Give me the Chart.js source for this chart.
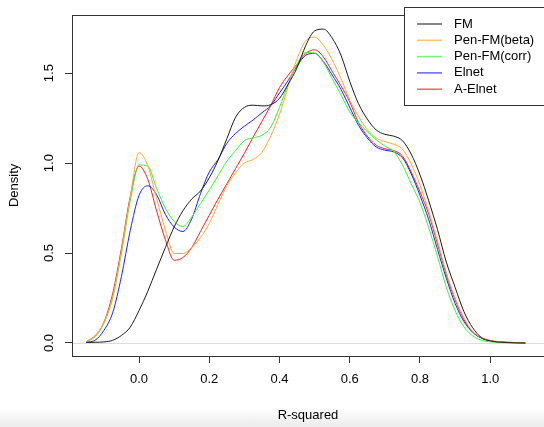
<!DOCTYPE html>
<html>
<head>
<meta charset="utf-8">
<script src="https://cdn.jsdelivr.net/npm/chart.js@4.4.1/dist/chart.umd.min.js"></script>
<style>
  html, body { margin: 0; padding: 0; }
  body { width: 544px; height: 427px; overflow: hidden;
         background: linear-gradient(to bottom, #fff 0, #fff 408px, #ebebeb 427px); }
  #densityChart { display: block; }
</style>
</head>
<body>
<canvas id="densityChart" width="544" height="427"></canvas>
<script>
// ================= DATA =================
const rSquared = [-0.15, -0.125, -0.1, -0.075, -0.05, -0.025, 0, 0.025, 0.05, 0.075,
  0.1, 0.125, 0.15, 0.175, 0.2, 0.225, 0.25, 0.275, 0.3, 0.325,
  0.35, 0.375, 0.4, 0.425, 0.45, 0.475, 0.5, 0.525, 0.55, 0.575,
  0.6, 0.625, 0.65, 0.675, 0.7, 0.725, 0.75, 0.775, 0.8, 0.825,
  0.85, 0.875, 0.9, 0.925, 0.95, 0.975, 1.0, 1.025, 1.05, 1.075, 1.1];

const fm = [0.003, 0.004, 0.006, 0.015, 0.042, 0.088, 0.18, 0.287, 0.41, 0.53,
  0.645, 0.735, 0.80, 0.845, 0.918, 1.015, 1.135, 1.255, 1.31, 1.322,
  1.318, 1.325, 1.36, 1.44, 1.53, 1.655, 1.735, 1.745, 1.695, 1.60,
  1.455, 1.33, 1.245, 1.185, 1.16, 1.15, 1.125, 1.05, 0.935, 0.79,
  0.63, 0.45, 0.31, 0.175, 0.085, 0.03, 0.012, 0.005, 0.002, 0.001, 0.0];

const penFmBeta = [0.008, 0.04, 0.112, 0.256, 0.51, 0.81, 1.058, 0.985, 0.805, 0.63,
  0.498, 0.497, 0.53, 0.585, 0.665, 0.77, 0.875, 0.945, 1.0, 1.02,
  1.06, 1.15, 1.27, 1.43, 1.58, 1.68, 1.70, 1.655, 1.575, 1.47,
  1.35, 1.26, 1.185, 1.14, 1.12, 1.105, 1.078, 0.995, 0.88, 0.73,
  0.565, 0.39, 0.25, 0.14, 0.065, 0.03, 0.014, 0.007, 0.004, 0.002, 0.001];

const penFmCorr = [0.008, 0.035, 0.11, 0.25, 0.50, 0.79, 0.99, 0.983, 0.86, 0.75,
  0.675, 0.648, 0.70, 0.775, 0.85, 0.93, 1.01, 1.07, 1.125, 1.14,
  1.155, 1.20, 1.31, 1.44, 1.55, 1.615, 1.612, 1.56, 1.47, 1.38,
  1.285, 1.225, 1.175, 1.13, 1.095, 1.065, 0.99, 0.885, 0.78, 0.64,
  0.48, 0.31, 0.18, 0.09, 0.04, 0.015, 0.006, 0.003, 0.002, 0.001, 0.0];

const elnet = [0.004, 0.015, 0.07, 0.168, 0.37, 0.625, 0.82, 0.874, 0.825, 0.715,
  0.645, 0.62, 0.69, 0.83, 0.95, 1.02, 1.11, 1.165, 1.205, 1.24,
  1.28, 1.32, 1.39, 1.46, 1.54, 1.60, 1.61, 1.565, 1.49, 1.41,
  1.31, 1.21, 1.14, 1.09, 1.072, 1.062, 1.03, 0.94, 0.82, 0.685,
  0.52, 0.36, 0.22, 0.12, 0.06, 0.027, 0.012, 0.006, 0.003, 0.001, 0.0];

const aElnet = [0.008, 0.04, 0.115, 0.275, 0.527, 0.815, 0.983, 0.91, 0.735, 0.575,
  0.46, 0.475, 0.53, 0.62, 0.71, 0.80, 0.885, 0.97, 1.055, 1.145,
  1.232, 1.32, 1.42, 1.49, 1.55, 1.61, 1.63, 1.59, 1.51, 1.43,
  1.34, 1.225, 1.15, 1.10, 1.08, 1.07, 1.04, 0.95, 0.84, 0.715,
  0.55, 0.38, 0.24, 0.13, 0.06, 0.028, 0.014, 0.007, 0.004, 0.002, 0.001];

const seriesLabels = ["FM", "Pen-FM(beta)", "Pen-FM(corr)", "Elnet", "A-Elnet"];
const seriesValues = [fm, penFmBeta, penFmCorr, elnet, aElnet];
const seriesColors = ["#1a1a1a", "#ffa733", "#3cf03c", "#1f1ff5", "#f52020"];

const xTicks = [0, 0.2, 0.4, 0.6, 0.8, 1.0];
const yTicks = [0, 0.5, 1.0, 1.5];

const FONT = "'Liberation Sans', Arial, Helvetica, sans-serif";

// ================= PLUGINS =================
// box round the plot region + gray zero line (R density style)
const boxPlugin = {
  id: "boxPlugin",
  beforeDatasetsDraw(chart) {
    const { ctx, chartArea: a, scales } = chart;
    const y0 = Math.round(scales.y.getPixelForValue(0)) + 0.5;
    ctx.save();
    ctx.strokeStyle = "#dcdcdc";
    ctx.lineWidth = 1;
    ctx.beginPath();
    ctx.moveTo(a.left, y0);
    ctx.lineTo(a.right, y0);
    ctx.stroke();
    ctx.restore();
  },
  afterDatasetsDraw(chart) {
    const { ctx, chartArea: a } = chart;
    ctx.save();
    ctx.strokeStyle = "#333";
    ctx.lineWidth = 1;
    ctx.strokeRect(Math.round(a.left) + 0.5, Math.round(a.top) + 0.5,
      Math.round(a.right - a.left), Math.round(a.bottom - a.top));
    ctx.restore();
  }
};

// legend box in the top right corner
const legendBox = {
  id: "legendBox",
  afterDraw(chart) {
    const { ctx } = chart;
    const left = 404.5, top = 7.5, bottom = 105.5;
    ctx.save();
    ctx.fillStyle = "#fff";
    ctx.fillRect(left, top, 200, bottom - top);
    ctx.strokeStyle = "#333";
    ctx.lineWidth = 1;
    ctx.strokeRect(left, top, 200, bottom - top);
    ctx.font = "13px " + FONT;
    ctx.textBaseline = "middle";
    chart.data.datasets.forEach((ds, i) => {
      const y = 24 + i * 16.3;
      ctx.strokeStyle = ds.borderColor;
      ctx.lineWidth = 1.5;
      ctx.globalAlpha = 0.7;
      ctx.beginPath();
      ctx.moveTo(417, y);
      ctx.lineTo(442, y);
      ctx.stroke();
      ctx.globalAlpha = 1;
      ctx.fillStyle = "#000";
      ctx.fillText(ds.label, 454, y);
    });
    ctx.restore();
  }
};

// ================= CHART =================
new Chart(document.getElementById("densityChart"), {
  type: "line",
  data: {
    datasets: seriesLabels.map((label, i) => ({
      label: label,
      data: rSquared.map((x, j) => ({ x: x, y: seriesValues[i][j] })),
      borderColor: seriesColors[i],
      borderWidth: 1,
      pointRadius: 0,
      fill: false,
      cubicInterpolationMode: "monotone"
    }))
  },
  options: {
    responsive: false,
    animation: false,
    layout: { padding: { top: 7, right: -2, bottom: 0, left: 0 } },
    plugins: {
      legend: { display: false },
      tooltip: { enabled: false }
    },
    scales: {
      x: {
        type: "linear",
        min: -0.1908,
        max: 1.1531,
        afterBuildTicks: (s) => { s.ticks = xTicks.map(v => ({ value: v })); },
        afterFit: (s) => { s.height = 71; },
        grid: { drawOnChartArea: false, drawTicks: true, tickLength: 7, color: "#333" },
        border: { display: false },
        ticks: {
          padding: 9,
          color: "#000",
          font: { family: FONT, size: 13 },
          maxRotation: 0,
          callback: (v) => v.toFixed(1)
        },
        title: {
          display: true,
          text: "R-squared",
          color: "#000",
          font: { family: FONT, size: 13 },
          padding: { top: 0, bottom: 4 }
        }
      },
      y: {
        type: "linear",
        min: -0.0723,
        max: 1.8245,
        afterBuildTicks: (s) => { s.ticks = yTicks.map(v => ({ value: v })); },
        afterFit: (s) => { s.width = 72; },
        grid: { drawOnChartArea: false, drawTicks: true, tickLength: 7, color: "#333" },
        border: { display: false },
        ticks: {
          padding: 7,
          color: "#000",
          font: { family: FONT, size: 13 },
          minRotation: 90,
          maxRotation: 90,
          crossAlign: "center",
          callback: (v) => v.toFixed(1)
        },
        title: {
          display: true,
          text: "Density",
          color: "#000",
          font: { family: FONT, size: 13 },
          padding: { top: 7, bottom: 0 }
        }
      }
    }
  },
  plugins: [boxPlugin, legendBox]
});
</script>
</body>
</html>
